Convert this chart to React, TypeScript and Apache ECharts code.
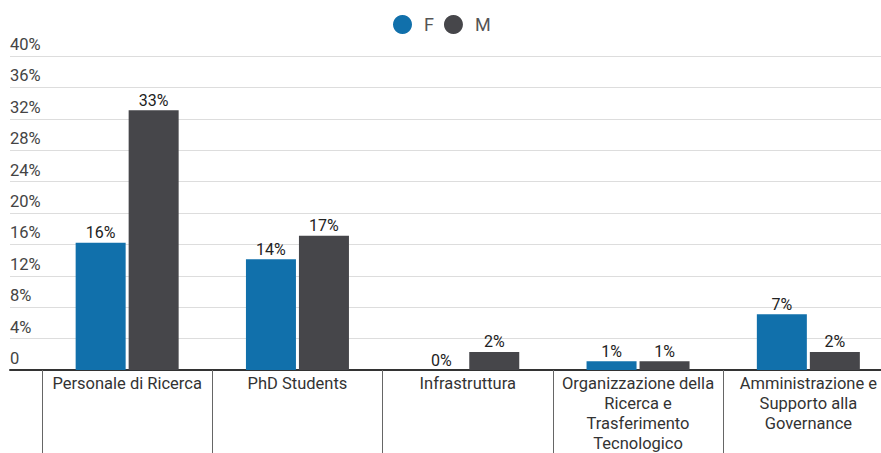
import React, { useEffect, useRef } from "react";
import * as echarts from "echarts";

const categories = [
  "Personale di Ricerca",
  "PhD Students",
  "Infrastruttura",
  "Organizzazione della\nRicerca e\nTrasferimento\nTecnologico",
  "Amministrazione e\nSupporto alla\nGovernance",
];
const seriesF = [16.2, 14.1, 0, 1.1, 7.1];
const seriesM = [33.1, 17.1, 2.3, 1.1, 2.3];
const yMin = 0;
const yMax = 40;
const yInterval = 4;

const FONT = "Roboto, 'Noto Sans', sans-serif";

export default function App() {
  const ref = useRef<HTMLDivElement>(null);
  useEffect(() => {
    if (!ref.current) return;
    const chart = echarts.init(ref.current, null, { renderer: "svg" });
    const labelCfg = {
      show: true,
      position: "top",
      distance: 2,
      fontSize: 16,
      color: "#222",
      fontFamily: FONT,
      formatter: (p: any) => Math.round(p.value) + "%",
    };
    chart.setOption({
      animation: false,
      textStyle: { fontFamily: FONT },
      legend: {
        top: 10,
        left: 388,
        icon: "circle",
        itemWidth: 19,
        itemHeight: 19,
        itemGap: 10,
        textStyle: { fontSize: 18, color: "#555", fontFamily: FONT, padding: [0, 0, 0, 7] },
        data: ["F", "M"],
      },
      grid: [
        { left: 10, top: 56, width: 883.5, height: 314, containLabel: false, outerBoundsMode: "none" },
        { left: 42, top: 56, width: 851.5, height: 314, containLabel: false, outerBoundsMode: "none" },
      ],
      xAxis: [
        {
          gridIndex: 0,
          type: "value",
          min: 0,
          max: 1,
          axisLine: { show: true, onZero: false, lineStyle: { color: "#333", width: 2 } },
          axisTick: { show: false },
          axisLabel: { show: false },
          splitLine: { show: false },
        },
        {
          gridIndex: 1,
          type: "category",
          data: categories,
          axisLine: { show: true, lineStyle: { color: "#333", width: 2 } },
          axisTick: { show: true, length: 90, lineStyle: { color: "#666", width: 1 } },
          axisLabel: {
            interval: 0,
            margin: 4,
            fontSize: 16.5,
            lineHeight: 19.8,
            color: "#333",
            fontFamily: FONT,
          },
        },
      ],
      yAxis: [
        {
          gridIndex: 0,
          type: "value",
          min: yMin,
          max: yMax,
          interval: yInterval,
          axisLine: { show: false },
          axisTick: { show: false },
          splitLine: { show: true, lineStyle: { color: "#ddd", width: 1 } },
          axisLabel: {
            inside: true,
            margin: 0,
            align: "left",
            verticalAlign: "bottom",
            padding: [0, 0, 3, 0],
            fontSize: 16.5,
            color: "#444",
            fontFamily: FONT,
            formatter: (v: number) => (v === 0 ? "0" : v + "%"),
          },
        },
        {
          gridIndex: 1,
          type: "value",
          min: yMin,
          max: yMax,
          interval: yInterval,
          show: false,
          splitLine: { show: false },
        },
      ],
      series: [
        {
          name: "F",
          type: "bar",
          xAxisIndex: 1,
          yAxisIndex: 1,
          data: seriesF,
          barWidth: 50,
          barGap: "6%",
          itemStyle: { color: "#1170ab" },
          label: labelCfg,
        },
        {
          name: "M",
          type: "bar",
          xAxisIndex: 1,
          yAxisIndex: 1,
          data: seriesM,
          barWidth: 50,
          barGap: "6%",
          itemStyle: { color: "#46464a" },
          label: labelCfg,
        },
      ],
    });
    return () => chart.dispose();
  }, []);
  return (
    <div
      ref={ref}
      style={{ position: "fixed", left: 0, top: 0, width: 881, height: 453, background: "#fff" }}
    />
  );
}
